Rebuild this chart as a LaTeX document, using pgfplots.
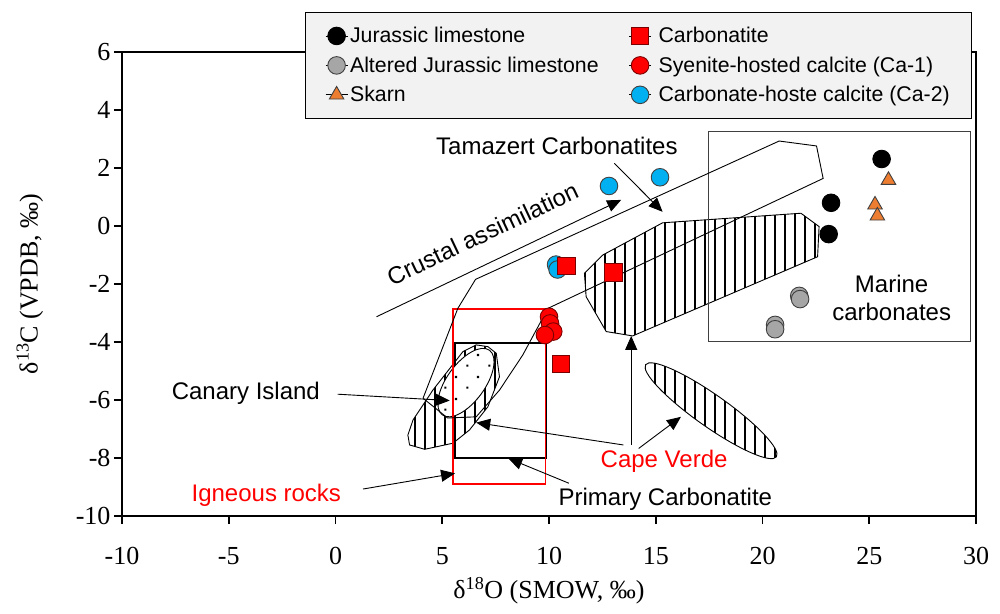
\documentclass[border=0pt]{standalone}
\usepackage{pgfplots}
\pgfplotsset{compat=1.18}
\usepackage{fontspec}
\setmainfont{Liberation Serif}
\newfontfamily\arial{Liberation Sans}
\usetikzlibrary{arrows.meta,patterns}

\definecolor{legendfill}{HTML}{F2F2F2}
\definecolor{altgray}{HTML}{A6A6A6}
\definecolor{skarn}{HTML}{ED7D31}
\definecolor{carbred}{HTML}{FF0000}
\definecolor{darkred}{HTML}{7A0000}
\definecolor{caTwo}{HTML}{00B0F0}
\definecolor{boxgray}{HTML}{404040}

% vertical hatching used for the isotope fields
\pgfdeclarepatternformonly{vhatch}{\pgfqpoint{-1pt}{-1pt}}{\pgfqpoint{11pt}{11pt}}{\pgfqpoint{10pt}{10pt}}{%
  \pgfsetlinewidth{2.8pt}%
  \pgfpathmoveto{\pgfqpoint{5pt}{-1pt}}\pgfpathlineto{\pgfqpoint{5pt}{11pt}}\pgfusepath{stroke}}
% sparse stipple for the Canary Island field
\pgfdeclarepatternformonly{stipple}{\pgfqpoint{0pt}{0pt}}{\pgfqpoint{22pt}{22pt}}{\pgfqpoint{22pt}{22pt}}{%
  \pgfpathrectangle{\pgfqpoint{4.5pt}{4.5pt}}{\pgfqpoint{2.2pt}{2.2pt}}%
  \pgfpathrectangle{\pgfqpoint{15.5pt}{15.5pt}}{\pgfqpoint{2.2pt}{2.2pt}}%
  \pgfusepath{fill}}

\newcommand\annot{\arial\fontsize{24}{28}\selectfont}

\pgfplotsset{
  mk/.style={only marks, line width=0.9pt,
    legend image code/.code={\path (-11pt,0pt) -- (11pt,0pt); \draw[##1] plot coordinates {(0pt,0pt)};}},
  jur/.style={mk, mark=*, mark size=8.8pt, mark options={fill=black, draw=black}},
  alt/.style={mk, mark=*, mark size=8.8pt, mark options={fill=altgray, draw=boxgray}},
  skn/.style={mk, mark=triangle*, mark size=8.4pt, mark options={fill=skarn, draw=boxgray}},
  cbt/.style={mk, mark=square*, mark size=8.8pt, mark options={fill=carbred, draw=darkred}},
  caa/.style={mk, mark=*, mark size=8.8pt, mark options={fill=carbred, draw=darkred}},
  cab/.style={mk, mark=*, mark size=8.8pt, mark options={fill=caTwo, draw=boxgray}},
}

\begin{document}
\begin{tikzpicture}
\useasboundingbox (-122pt,-97pt) rectangle (878pt,516pt);
\begin{axis}[
  scale only axis, width=854pt, height=464pt,
  xmin=-10, xmax=30, ymin=-10, ymax=6,
  xtick={-10,-5,...,30}, ytick={-10,-8,...,6},
  tick pos=left, tick align=outside, major tick length=8pt,
  axis line style={line width=1.6pt},
  tick style={black, line width=1.6pt},
  /pgf/number format/assume math mode=true,
  ticklabel style={font=\fontsize{26}{30}\selectfont},
  xticklabel style={yshift=-20pt},
  label style={font=\fontsize{26}{30}\selectfont},
  xlabel={δ\textsuperscript{18}O (SMOW, ‰)},
  ylabel={δ\textsuperscript{13}C (VPDB, ‰)},
  xlabel style={at={(axis description cs:0.5,-0.161)}, anchor=center},
  ylabel style={at={(axis description cs:-0.108,0.5)}, anchor=center},
  clip=false,
  legend columns=2,
  legend cell align=left,
  legend style={at={(axis description cs:0.214,1.086)}, anchor=north west,
    fill=legendfill, draw=black, line width=0.8pt,
    font=\arial\fontsize{21.3}{24}\selectfont,
    /tikz/every even column/.append style={column sep=28pt},
    row sep=8.5pt, inner xsep=20pt, inner ysep=13pt},
]

% Tamazert carbonatite field
\draw[line width=0.9pt, fill=white, postaction={pattern=vhatch}]
  (axis cs:11.66,-1.63) -- (axis cs:12.52,-1.00) -- (axis cs:15.32,0.11) -- (axis cs:21.80,0.44)
  -- (axis cs:22.65,-0.02) -- (axis cs:22.58,-1.06) -- (axis cs:13.92,-3.79) -- (axis cs:12.68,-3.64)
  -- (axis cs:11.74,-2.44) -- cycle;

% primary carbonatite box
\draw[line width=2pt] (axis cs:5.60,-8.00) rectangle (axis cs:9.87,-4.04);

% Cape Verde field (left)
\draw[line width=0.9pt, fill=white, postaction={pattern=vhatch}]
  (axis cs:3.39,-7.21) -- (axis cs:3.47,-7.55) -- (axis cs:4.18,-7.70) -- (axis cs:5.50,-7.49)
  -- (axis cs:6.28,-7.03) -- (axis cs:7.14,-6.23) -- (axis cs:7.68,-5.20) -- (axis cs:7.53,-4.39)
  -- (axis cs:7.14,-4.16) -- (axis cs:6.59,-4.10) -- (axis cs:5.97,-4.33) -- (axis cs:4.56,-5.66)
  -- (axis cs:3.63,-6.69) -- cycle;

% Canary Island field
\draw[line width=0.9pt, fill=white, postaction={pattern=stipple},
  rotate around={54:(axis cs:6.11,-5.40)}]
  (axis cs:6.11,-5.40) ellipse [x radius=40pt, y radius=19pt];

% Cape Verde field (right)
\draw[line width=0.9pt, fill=white, postaction={pattern=vhatch},
  rotate around={-35.2:(axis cs:17.59,-6.37)}]
  (axis cs:17.59,-6.37) ellipse [x radius=80pt, y radius=16pt];

% igneous rocks box
\draw[carbred, line width=1.8pt] (axis cs:5.50,-8.90) rectangle (axis cs:9.84,-2.87);

% marine carbonates box
\draw[boxgray, line width=1.3pt] (axis cs:17.48,-3.99) rectangle (axis cs:29.75,3.25);

% crustal assimilation band
\draw[line width=0.9pt]
  (axis cs:6.56,-1.84) -- (axis cs:20.78,2.93) -- (axis cs:22.53,2.76) -- (axis cs:22.84,1.64)
  -- (axis cs:9.95,-2.84) -- (axis cs:8.77,-4.45) -- (axis cs:7.68,-5.66) -- (axis cs:6.59,-6.58)
  -- (axis cs:5.25,-6.62) -- (axis cs:4.10,-5.94) -- (axis cs:5.73,-2.84) -- cycle;

% arrows
\begin{scope}[line width=0.9pt, -{Triangle[length=14pt,width=12pt]}]
\draw (axis cs:13.06,2.16) -- (axis cs:15.32,0.49);
\draw (axis cs:1.92,-3.13) -- (axis cs:13.38,0.90);
\draw (axis cs:0.10,-5.80) -- (axis cs:5.35,-6.02);
\draw (axis cs:13.48,-7.55) -- (axis cs:6.59,-6.78);
\draw (axis cs:13.85,-7.55) -- (axis cs:13.85,-3.79);
\draw (axis cs:14.20,-7.67) -- (axis cs:16.18,-6.58);
\draw (axis cs:10.93,-8.87) -- (axis cs:8.09,-8.01);
\draw (axis cs:1.29,-9.07) -- (axis cs:5.60,-8.53);
\end{scope}

% annotations
\node[anchor=base, font=\annot] at (axis cs:10.37,2.48) {Tamazert Carbonatites};
\node[anchor=base, font=\annot, rotate=25.3] at (axis cs:7.06,-0.54) {Crustal assimilation};
\node[anchor=base, font=\annot] at (axis cs:-4.20,-5.97) {Canary Island};
\node[anchor=base, font=\annot, text=carbred] at (axis cs:15.39,-8.32) {Cape Verde};
\node[anchor=base, font=\annot] at (axis cs:15.45,-9.64) {Primary Carbonatite};
\node[anchor=base, font=\annot, text=carbred] at (axis cs:-3.24,-9.49) {Igneous rocks};
\node[anchor=base, font=\annot] at (axis cs:26.05,-2.28) {Marine};
\node[anchor=base, font=\annot] at (axis cs:26.05,-3.26) {carbonates};

% samples, in drawing order
\addplot[cab, forget plot] coordinates {(12.81,1.38) (15.20,1.68) (10.33,-1.33) (10.40,-1.50)};
\addplot[jur, forget plot] coordinates {(25.58,2.31) (23.21,0.80) (23.10,-0.28)};
\addplot[alt, forget plot] coordinates {(21.72,-2.41) (21.76,-2.52) (20.59,-3.41) (20.59,-3.56)};
\addplot[skn, forget plot] coordinates {(25.90,1.58) (25.27,0.73) (25.38,0.35)};
\addplot[cbt, forget plot] coordinates {(10.83,-1.38) (13.01,-1.60) (10.56,-4.76)};
\addplot[caa, forget plot] coordinates {(10.00,-3.13) (10.05,-3.36) (10.20,-3.64) (9.81,-3.76)};

% legend, row by row
\addlegendimage{jur}\addlegendentry{Jurassic limestone}
\addlegendimage{cbt}\addlegendentry{\hspace{5pt}Carbonatite}
\addlegendimage{alt}\addlegendentry{Altered Jurassic limestone}
\addlegendimage{caa}\addlegendentry{\hspace{5pt}Syenite-hosted calcite (Ca-1)}
\addlegendimage{skn}\addlegendentry{Skarn}
\addlegendimage{cab}\addlegendentry{\hspace{5pt}Carbonate-hoste calcite (Ca-2)}

\end{axis}
\end{tikzpicture}
\end{document}
